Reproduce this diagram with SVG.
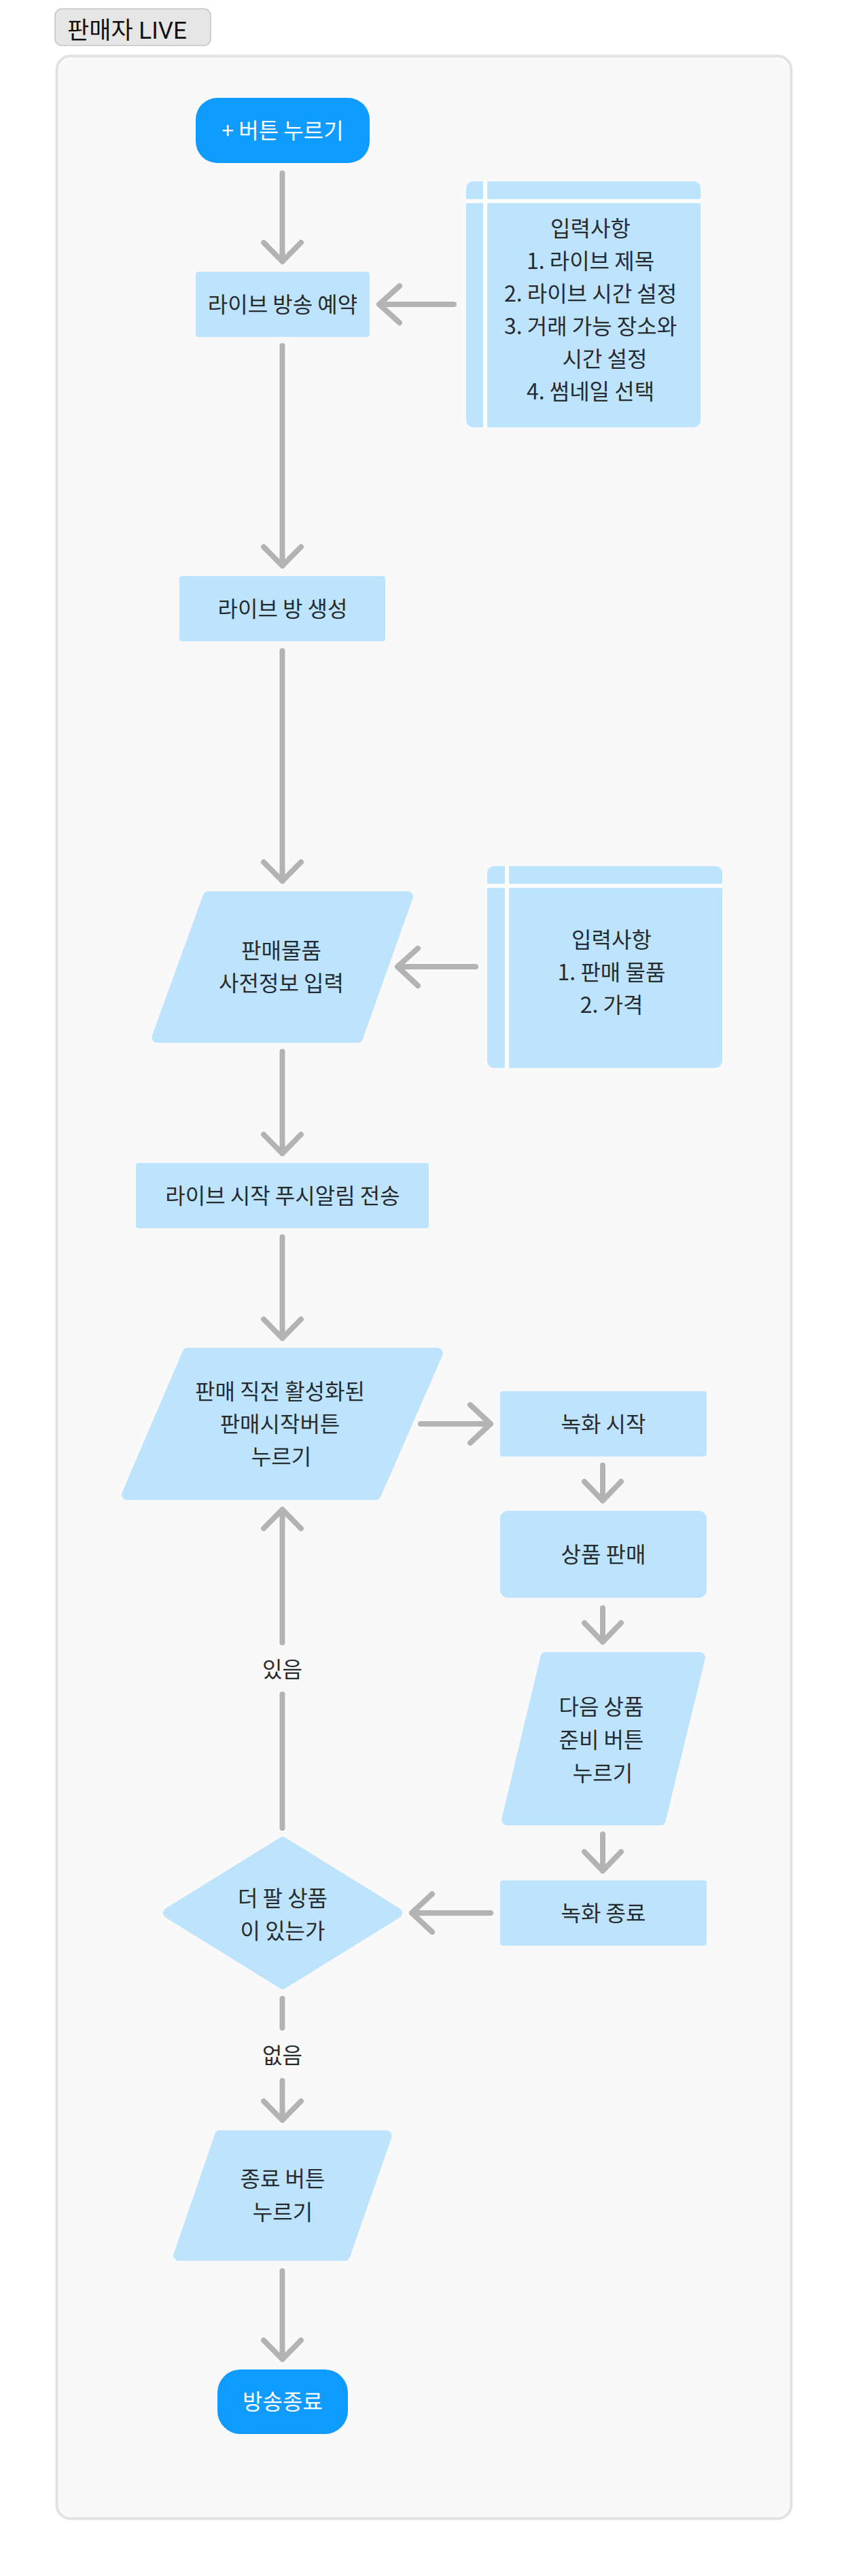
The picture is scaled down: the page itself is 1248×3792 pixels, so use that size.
<svg xmlns="http://www.w3.org/2000/svg" width="1248" height="3792" viewBox="0 0 1248 3792">
<style>
.t{font-family:"Noto Sans CJK KR","Noto Sans",sans-serif;font-size:32px;fill:#262b30;text-anchor:middle}
.w{fill:#ffffff}
.proc{fill:#bde3fd}
.term{fill:#0f9bff}
.shape{fill:#bde3fd;stroke:#bde3fd;stroke-width:16;stroke-linejoin:round}
.sep{stroke:#ffffff;stroke-width:6;fill:none}
.edge{stroke:#b3b3b3;stroke-width:8;stroke-linecap:round;stroke-linejoin:round;fill:none}
</style>
<rect width="1248" height="3792" fill="#ffffff"/>
<g id="title">
<rect x="81" y="13" width="229" height="54" rx="10" fill="#e6e6e6" stroke="#c4c4c4" stroke-width="1.5"/>
<text x="99" y="57" font-family="Roboto,'Noto Sans CJK KR',sans-serif" font-size="35" fill="#111111">판매자 LIVE</text>
</g>
<rect id="container" x="83.5" y="82.5" width="1081" height="3625" rx="20" fill="#f9f9f9" stroke="#e2e2e2" stroke-width="4"/>

<g id="connectors">
<path class="edge" d="M415.5 255V385M388 357L415.5 385L443 357"/>
<path class="edge" d="M668 448H558M588 421L558 448L588 475"/>
<path class="edge" d="M415.5 509V833M388 805L415.5 833L443 805"/>
<path class="edge" d="M415.5 958V1297M388 1269L415.5 1297L443 1269"/>
<path class="edge" d="M700 1423H585M615 1396L585 1423L615 1451"/>
<path class="edge" d="M415.5 1548V1698M388 1670L415.5 1698L443 1670"/>
<path class="edge" d="M415.5 1821V1970M388 1942L415.5 1970L443 1942"/>
<path class="edge" d="M619 2096H722M692 2068L722 2096L692 2124"/>
<path class="edge" d="M887 2157V2209M860 2181L887 2209L914 2181"/>
<path class="edge" d="M887 2367V2417M860 2389L887 2417L914 2389"/>
<path class="edge" d="M887 2700V2754M860 2726L887 2754L914 2726"/>
<path class="edge" d="M722 2816H606M636 2788L606 2816L636 2844"/>
<path class="edge" d="M415.5 2691V2494M415.5 2418V2222M388 2250L415.5 2222L443 2250"/>
<text class="t" x="415.5" y="2469">있음</text>
<path class="edge" d="M415.5 2942V2985M415.5 3063V3121M388 3093L415.5 3121L443 3093"/>
<text class="t" x="415.5" y="3037">없음</text>
<path class="edge" d="M415.5 3343V3473M388 3445L415.5 3473L443 3445"/>
</g>

<g id="start">
<rect class="term" x="288" y="144" width="256" height="96" rx="32"/>
<text class="t w" x="416" y="204">+ 버튼 누르기</text>
</g>
<g id="reserve">
<rect class="proc" x="288" y="400" width="256" height="96" rx="4"/>
<text class="t" x="416" y="460">라이브 방송 예약</text>
</g>
<g id="input1">
<rect class="proc" x="686" y="267" width="345" height="362" rx="10"/>
<path class="sep" d="M686 296H1031M714 267V629"/>
<text class="t" x="869" y="348">입력사항</text>
<text class="t" x="869" y="396">1. 라이브 제목</text>
<text class="t" x="869" y="444">2. 라이브 시간 설정</text>
<text class="t" x="869" y="492">3. 거래 가능 장소와</text>
<text class="t" x="890" y="540">시간 설정</text>
<text class="t" x="869" y="588">4. 썸네일 선택</text>
</g>
<g id="room">
<rect class="proc" x="264" y="848" width="303" height="96" rx="4"/>
<text class="t" x="416" y="908">라이브 방 생성</text>
</g>
<g id="preinfo">
<polygon class="shape" points="306.6,1320 599.7,1320 526.3,1527 231.4,1527"/>
<text class="t" x="414" y="1411">판매물품</text>
<text class="t" x="414" y="1459">사전정보 입력</text>
</g>
<g id="input2">
<rect class="proc" x="717" y="1275" width="346" height="297" rx="10"/>
<path class="sep" d="M717 1304H1063M746 1275V1572"/>
<text class="t" x="900" y="1395">입력사항</text>
<text class="t" x="900" y="1443">1. 판매 물품</text>
<text class="t" x="900" y="1491">2. 가격</text>
</g>
<g id="push">
<rect class="proc" x="200" y="1712" width="431" height="96" rx="4"/>
<text class="t" x="416" y="1772">라이브 시작 푸시알림 전송</text>
</g>
<g id="salestart">
<polygon class="shape" points="276.3,1992 643.8,1992 552.8,2200 187.1,2200"/>
<text class="t" x="412" y="2060">판매 직전 활성화된</text>
<text class="t" x="412" y="2108">판매시작버튼</text>
<text class="t" x="414" y="2156">누르기</text>
</g>
<g id="recstart">
<rect class="proc" x="736" y="2048" width="304" height="96" rx="4"/>
<text class="t" x="888" y="2108">녹화 시작</text>
</g>
<g id="sell">
<rect class="proc" x="736" y="2224" width="304" height="128" rx="12"/>
<text class="t" x="888" y="2300">상품 판매</text>
</g>
<g id="next">
<polygon class="shape" points="803.3,2440 1029.9,2440 971.7,2679 746.1,2679"/>
<text class="t" x="885" y="2524">다음 상품</text>
<text class="t" x="885" y="2573">준비 버튼</text>
<text class="t" x="887" y="2622">누르기</text>
</g>
<g id="recend">
<rect class="proc" x="736" y="2768" width="304" height="96" rx="4"/>
<text class="t" x="888" y="2828">녹화 종료</text>
</g>
<g id="decision">
<polygon class="shape" points="416,2712 584,2816 416,2920 248,2816"/>
<text class="t" x="416" y="2806">더 팔 상품</text>
<text class="t" x="416" y="2854">이 있는가</text>
</g>
<g id="endbtn">
<polygon class="shape" points="323.8,3144 568.7,3144 507.3,3320 263.3,3320"/>
<text class="t" x="416" y="3219">종료 버튼</text>
<text class="t" x="416" y="3268">누르기</text>
</g>
<g id="end">
<rect class="term" x="320" y="3488" width="192" height="95" rx="34"/>
<text class="t w" x="416" y="3547">방송종료</text>
</g>
</svg>
